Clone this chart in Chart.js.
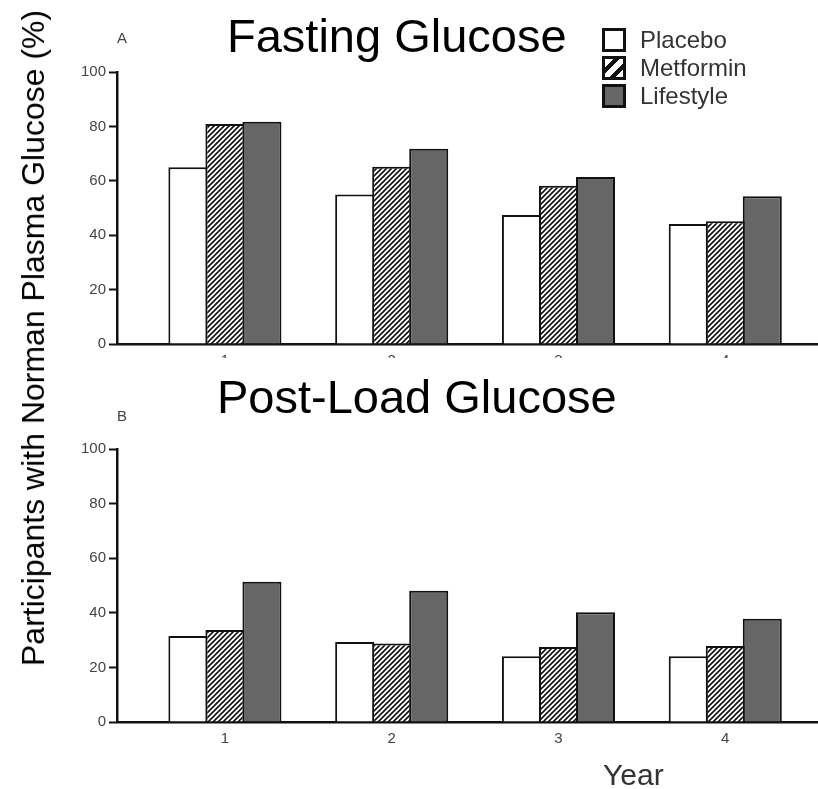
<!DOCTYPE html>
<html>
<head>
<meta charset="utf-8">
<script src="https://cdn.jsdelivr.net/npm/chart.js@4.4.1/dist/chart.umd.min.js"></script>
<style>
 body { margin: 0; background: #fff; font-family: "Liberation Sans", Arial, sans-serif; }
 #page { position: relative; width: 818px; height: 789px; overflow: hidden; background: #fff; }
 canvas { position: absolute; left: 0; }
 .txt { position: absolute; white-space: nowrap; line-height: 1; }
 .title { font-size: 47px; color: #000; }
 .panel { font-size: 15px; color: #444; }
 .legend-box { position: absolute; left: 602px; width: 18px; height: 18px; border: 3px solid #111; }
 .legend-label { position: absolute; left: 640px; font-size: 24px; color: #333; line-height: 1; white-space: nowrap; }
</style>
</head>
<body>
<div id="page">
 <canvas id="fasting-canvas" width="818" height="358" style="top:0px"></canvas>
 <canvas id="postload-canvas" width="818" height="409" style="top:380px"></canvas>

 <div class="txt title" style="left:227px; top:12px">Fasting Glucose</div>
 <div class="txt title" style="left:217px; top:373px">Post-Load Glucose</div>
 <div class="txt panel" style="left:117px; top:30px">A</div>
 <div class="txt panel" style="left:117px; top:408px">B</div>
 <div class="txt" style="left:603px; top:760px; font-size:30px; color:#333">Year</div>
 <div class="txt" style="left:33px; top:338px; font-size:32px; color:#000; transform: translate(-50%, -50%) rotate(-90deg)">Participants with Norman Plasma Glucose (%)</div>

 <div class="legend-box" style="top:28px; background:#fff"></div>
 <div class="legend-box" style="top:56px; background:repeating-linear-gradient(135deg, #fff 0 6px, #111 6px 10px)"></div>
 <div class="legend-box" style="top:84px; background:#666"></div>
 <div class="legend-label" style="top:28px">Placebo</div>
 <div class="legend-label" style="top:56px">Metformin</div>
 <div class="legend-label" style="top:84px">Lifestyle</div>
</div>

<script>
var years = [1, 2, 3, 4];
var yTicks = [0, 20, 40, 60, 80, 100];

// panel A - fasting glucose
var fastingPlacebo = [65, 55, 47.4, 44.1];
var fastingMetformin = [80.9, 65.2, 58.2, 45.1];
var fastingLifestyle = [81.7, 71.8, 61.4, 54.3];

// panel B - post-load glucose
var postLoadPlacebo = [31.5, 29.3, 24.1, 24.1];
var postLoadMetformin = [33.7, 28.8, 27.5, 27.8];
var postLoadLifestyle = [51.4, 48.1, 40.2, 37.8];

function hatchPattern() {
 var tile = document.createElement("canvas");
 tile.width = 5;
 tile.height = 5;
 var c = tile.getContext("2d");
 c.fillStyle = "#fff";
 c.fillRect(0, 0, 5, 5);
 c.strokeStyle = "#111";
 c.lineWidth = 1.6;
 c.beginPath();
 c.moveTo(-1, 6); c.lineTo(6, -1);
 c.moveTo(-1, 1); c.lineTo(1, -1);
 c.moveTo(4, 6); c.lineTo(6, 4);
 c.stroke();
 return document.createElement("canvas").getContext("2d").createPattern(tile, "repeat");
}

var hatch = hatchPattern();

function points(values) {
 return values.map(function (v, i) {
  return { x: years[i], y: v };
 });
}

function makeChart(id, placebo, metformin, lifestyle, topPad, axisHeight) {
 var ctx = document.getElementById(id);
 var barStyle = {
  borderColor: "#111",
  borderWidth: 2,
  borderSkipped: "bottom",
  categoryPercentage: 0.666,
  barPercentage: 1.054,
 };
 new Chart(ctx, {
  type: "bar",
  data: {
   datasets: [
    Object.assign({ label: "Placebo", data: points(placebo), backgroundColor: "#fff" }, barStyle),
    Object.assign({ label: "Metformin", data: points(metformin), backgroundColor: hatch }, barStyle),
    Object.assign({ label: "Lifestyle", data: points(lifestyle), backgroundColor: "#666" }, barStyle),
   ],
  },
  options: {
   responsive: false,
   animation: false,
   devicePixelRatio: 1,
   layout: { padding: { top: topPad, left: 0, right: 0, bottom: 0 } },
   plugins: { legend: { display: false }, tooltip: { enabled: false } },
   scales: {
    x: {
     type: "linear",
     offset: false,
     min: 0.353,
     max: 4.556,
     afterBuildTicks: function (scale) {
      scale.ticks = years.map(function (v) { return { value: v }; });
     },
     afterFit: function (scale) { scale.height = axisHeight; },
     grid: { display: false, drawTicks: false },
     border: { display: true, color: "#111", width: 2.5 },
     ticks: { padding: 8, color: "#444", font: { family: "Liberation Sans", size: 15 } },
    },
    y: {
     min: 0,
     max: 100,
     afterBuildTicks: function (scale) {
      scale.ticks = yTicks.map(function (v) { return { value: v }; });
     },
     afterFit: function (scale) { scale.width = 117; },
     grid: { drawOnChartArea: false, drawTicks: true, tickLength: 8, tickColor: "#111", tickWidth: 2 },
     border: { display: true, color: "#111", width: 2.5 },
     ticks: { padding: 3, color: "#444", font: { family: "Liberation Sans", size: 15 } },
    },
   },
  },
 });
}

makeChart("fasting-canvas", fastingPlacebo, fastingMetformin, fastingLifestyle, 72, 14);
makeChart("postload-canvas", postLoadPlacebo, postLoadMetformin, postLoadLifestyle, 69, 67);
</script>
</body>
</html>
